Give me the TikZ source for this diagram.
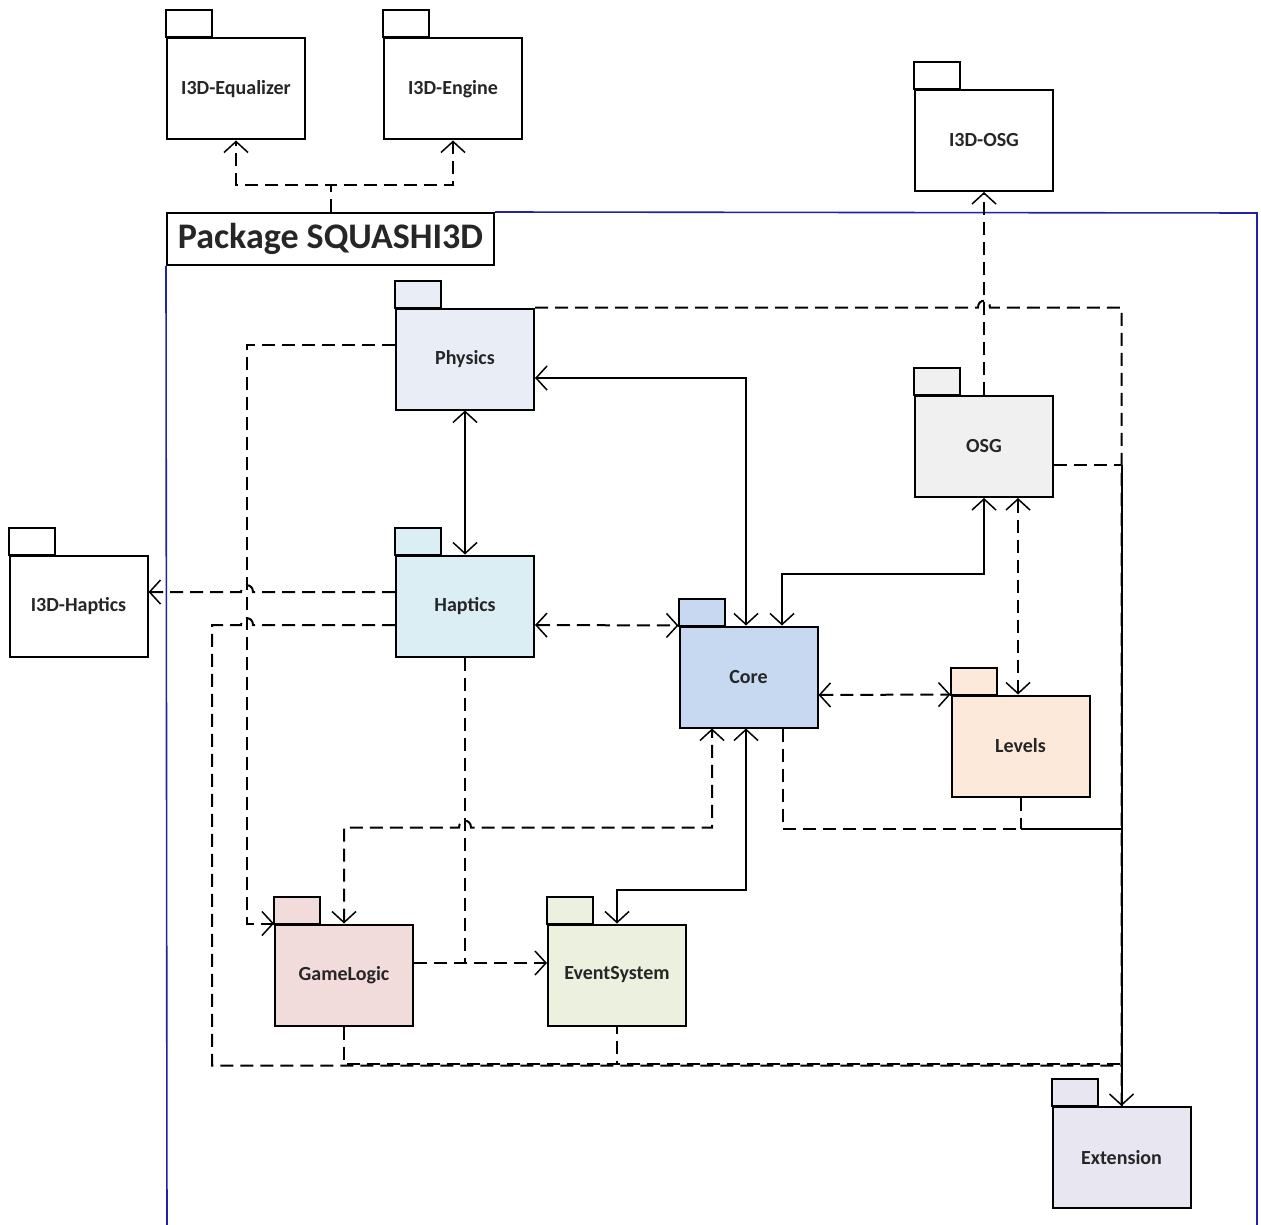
\documentclass[tikz,border=0pt]{standalone}
\usepackage{fontspec}
\setmainfont{Carlito}
\usetikzlibrary{arrows.meta,calc}

\definecolor{inkgray}{HTML}{262626}
\definecolor{frameblue}{HTML}{2222A8}
\definecolor{physfill}{HTML}{E9EDF5}
\definecolor{hapfill}{HTML}{DBEEF4}
\definecolor{osgfill}{HTML}{F0F0F0}
\definecolor{corefill}{HTML}{C6D9F0}
\definecolor{levfill}{HTML}{FDE9D9}
\definecolor{gamefill}{HTML}{F2DCDB}
\definecolor{evfill}{HTML}{EBF1DE}
\definecolor{extfill}{HTML}{E8E6F0}

\newcommand\pkgtab[2]{\draw[tabbox,fill=#2] (#1.north west) rectangle ++(46,-27);}

\begin{document}
\begin{tikzpicture}[x=1pt,y=-1pt,
  pkg/.style={draw=black, line width=2pt, minimum width=138pt, minimum height=101pt,
    inner sep=0pt, font=\fontsize{20}{24}\selectfont\bfseries, text=inkgray},
  tabbox/.style={draw=black, line width=2pt},
  dep/.style={line width=2pt, dash pattern=on 13pt off 7pt},
  uses/.style={line width=2pt},
  barb/.tip={Straight Barb[length=11pt,width=24pt,line width=1.5pt]},
  tipe/.style={-barb},
  tipb/.style={barb-barb},
  frame/.style={draw=frameblue, line width=1.6pt}
]
\fill[white] (0,0) rectangle (1261,1225);
\useasboundingbox (0,0) rectangle (1261,1225);

% enclosing package frame
\node[draw=black, line width=2pt, fill=white, minimum width=327pt, minimum height=52pt,
  inner sep=0pt, font=\fontsize{36}{40}\selectfont\bfseries, text=inkgray]
  (pkglabel) at (330.5,239) {Package SQUASHI3D};
\draw[frame] (pkglabel.north east) -- (1257,213) -- (1257,1240);
\draw[frame] (pkglabel.south west) -- (167,1240);

% packages
\node[pkg, fill=white] (Equalizer) at (236,89) {I3D-Equalizer}; \pkgtab{Equalizer}{white}
\node[pkg, fill=white] (Engine) at (453,89) {I3D-Engine}; \pkgtab{Engine}{white}
\node[pkg, fill=white] (IOSG) at (984,140.5) {I3D-OSG}; \pkgtab{IOSG}{white}
\node[pkg, fill=white] (IHaptics) at (78.5,606) {I3D-Haptics}; \pkgtab{IHaptics}{white}
\node[pkg, fill=physfill] (Physics) at (465,359) {Physics}; \pkgtab{Physics}{physfill}
\node[pkg, fill=hapfill] (Haptics) at (465,606) {Haptics}; \pkgtab{Haptics}{hapfill}
\node[pkg, fill=osgfill] (OSG) at (984,446.5) {OSG}; \pkgtab{OSG}{osgfill}
\node[pkg, fill=corefill] (Core) at (748.5,677) {Core}; \pkgtab{Core}{corefill}
\node[pkg, fill=levfill] (Levels) at (1020.5,746) {Levels}; \pkgtab{Levels}{levfill}
\node[pkg, fill=gamefill] (GameLogic) at (344,975) {GameLogic}; \pkgtab{GameLogic}{gamefill}
\node[pkg, fill=evfill] (EventSystem) at (617,975) {EventSystem}; \pkgtab{EventSystem}{evfill}
\node[pkg, fill=extfill] (Extension) at (1121.5,1157.5) {Extension}; \pkgtab{Extension}{extfill}

% routing points
\coordinate (vx) at ($(Physics.west)+(-148,0)$);
\coordinate (pW) at ([yshift=14pt]Physics.west);
\coordinate (hA) at ([yshift=14pt]Haptics.west);
\coordinate (hB) at ([yshift=-19pt]Haptics.west);
\coordinate (xA) at (vx |- hA);
\coordinate (xB) at (vx |- hB);
\coordinate (xT) at (OSG.north |- Physics.north east);
\coordinate (osgOut) at ([yshift=-18pt]OSG.east);
\coordinate (jOSG) at (Extension.north |- osgOut);
\coordinate (row828) at ($(Core.south)+(0,100)$);
\coordinate (jCore) at (Extension.north |- row828);
\coordinate (lvJ) at (Levels.south |- row828);
\coordinate (gA) at ($(GameLogic.north)+(0,-96)$);
\coordinate (xG) at (Haptics.south |- gA);
\coordinate (gE) at ([yshift=12pt]GameLogic.east);
\coordinate (eE) at ([yshift=12pt]EventSystem.west);
\coordinate (row1062) at ($(GameLogic.south)+(0,37)$);
\coordinate (row1064) at ($(GameLogic.south)+(0,39)$);
\coordinate (jBot) at (Extension.north |- row1062);
\coordinate (jBotB) at (Extension.north |- row1064);
\coordinate (oL) at ([xshift=34pt]OSG.south);

% external dependencies
\draw[dep,tipe] (pkglabel.north) -- ++(0,-27) -| (Equalizer.south);
\draw[dep,tipe] (pkglabel.north) -- ++(0,-27) -| (Engine.south);
\draw[dep,tipe] (OSG.north) -- (IOSG.south);
\draw[dep,tipe] (hA) -- ($(xA)+(6,0)$) .. controls ($(xA)+(6,-9)$) and ($(xA)+(-6,-9)$) .. ($(xA)+(-6,0)$) -- (IHaptics.east |- hA);

% everything feeds into Extension
\draw[dep,tipe] (Physics.north east) -- ($(xT)+(-6,0)$) .. controls ($(xT)+(-6,-9)$) and ($(xT)+(6,-9)$) .. ($(xT)+(6,0)$) -| (Extension.north);
\draw[dep] (osgOut) -- (jOSG);
\draw[uses] (jOSG) -- (Extension.north);
\draw[dep] ([xshift=34.5pt]Core.south) |- (jCore);
\draw[dep] (Levels.south) -- (lvJ);
\draw[uses] (lvJ) -- (jCore);
\draw[dep] (hB) -- ($(xB)+(6,0)$) .. controls ($(xB)+(6,-9)$) and ($(xB)+(-6,-9)$) .. ($(xB)+(-6,0)$) -- ($(hB)+(-183,0)$) |- (jBotB);
\draw[dep] (GameLogic.south) |- (jBot);
\draw[dep, dash phase=6pt] (EventSystem.south) -- (EventSystem.south |- row1062);

% internal dependencies
\draw[dep,tipe] (pW) -| (vx |- GameLogic.north west) -- (GameLogic.north west);
\draw[uses,tipb] (Physics.south) -- (Haptics.north);
\draw[uses,tipb] ([xshift=-2.5pt]Core.north) |- ([yshift=-19pt]Physics.east);
\draw[uses,tipb] (OSG.south) -- ++(0,76) -| ([xshift=33.5pt]Core.north);
\draw[dep,tipb,line width=2.6pt] (oL) -- (oL |- Levels.north);
\draw[dep,tipb] ([yshift=-19pt]Haptics.east) -- (Core.north west);
\draw[dep,tipb] ([yshift=-18pt]Core.east) -- (Levels.north west);
\draw[dep,tipb] (GameLogic.north) -- (gA) -- ($(xG)+(-6,0)$) .. controls ($(xG)+(-6,-9)$) and ($(xG)+(6,-9)$) .. ($(xG)+(6,0)$) -| ([xshift=-36.5pt]Core.south);
\draw[uses,tipb] (EventSystem.north) -- ++(0,-34) -| ([xshift=-2.5pt]Core.south);
\draw[dep,tipe] (gE) -- (eE);
\draw[dep] (Haptics.south) -- (Haptics.south |- gE);
\end{tikzpicture}
\end{document}
